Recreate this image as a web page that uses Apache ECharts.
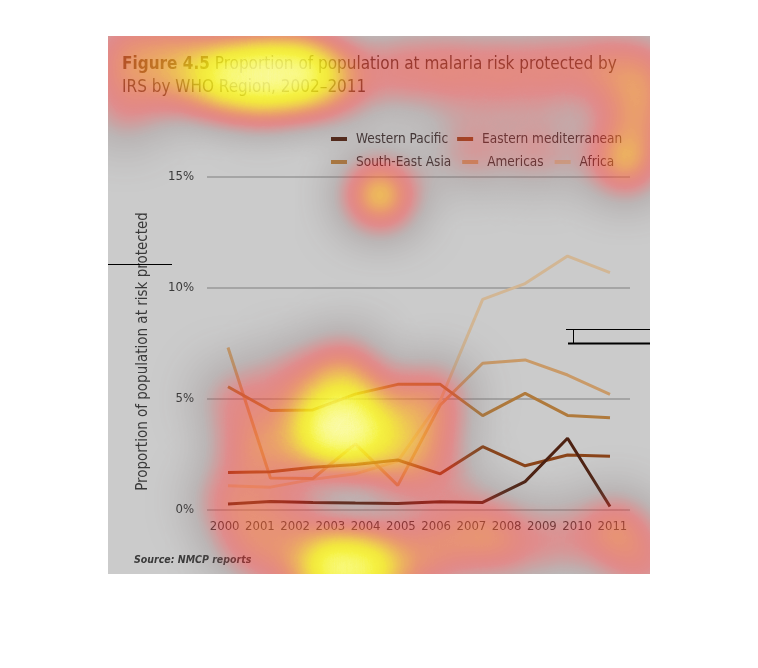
<!DOCTYPE html>
<html><head><meta charset="utf-8">
<script src="https://cdn.jsdelivr.net/npm/echarts@6/dist/echarts.min.js"></script>
<style>html,body{margin:0;padding:0;background:#fff}#c{width:758px;height:668px}</style>
</head><body><div id="c"></div>
<script>
// ---- data ----
const yearLabels = ['2000','2001','2002','2003','2004','2005','2006','2007','2008','2009','2010','2011'];
const dataYears = ['2002','2003','2004','2005','2006','2007','2008','2009','2010','2011'];
const westernPacific = [0.27, 0.38, 0.34, 0.31, 0.29, 0.37, 0.34, 1.28, 3.23, 0.16];
const easternMed     = [1.69, 1.72, 1.93, 2.05, 2.25, 1.63, 2.85, 1.99, 2.48, 2.42];
const southEastAsia  = [5.55, 4.48, 4.51, 5.22, 5.66, 5.66, 4.25, 5.25, 4.26, 4.16];
const americas       = [7.32, 1.44, 1.42, 2.98, 1.11, 4.73, 6.61, 6.76, 6.08, 5.21];
const africa         = [1.09, 1.03, 1.38, 1.63, 2.20, 4.92, 9.49, 10.20, 11.44, 10.69];
const yTicks = [0, 5, 10, 15];
const seriesNames = ['Western Pacific','Eastern mediterranean','South-East Asia','Americas','Africa'];
// attention heat spots: [x offset, y offset from panel top-left, weight]
const heatSpots = [
  // title band
  [117,39,1.0],[154,36,1.0],[192,36,1.0],[154,56,0.5],[82,44,0.5],[232,44,0.5],[212,40,0.5],
  [17,9,0.45],[17,34,0.4],[67,4,0.35],[67,34,0.35],
  [292,34,0.55],[342,34,0.55],[392,36,0.55],[442,34,0.55],[492,30,0.55],[537,34,0.55],[17,74,0.45],
  // legend
  [362,114,0.5],[432,114,0.5],[517,124,0.9],[532,74,0.6],
  // spot below legend
  [272,159,1.0],
  // main plot spot
  [222,394,1.0],[252,396,0.85],[237,384,0.55],[282,409,0.4],[192,404,0.5],[237,344,0.6],[237,326,0.3],
  [312,364,0.45],[332,434,0.4],[182,344,0.45],[312,394,0.35],[292,434,0.4],[332,359,0.35],
  [147,414,0.6],[127,364,0.5],[122,464,0.55],[142,509,0.55],[182,474,0.45],
  // bottom strip
  [222,529,1.0],[262,529,0.9],[242,544,0.6],[302,529,0.45],[182,532,0.4],
  [332,509,0.5],[372,490,0.45],[392,509,0.5],[447,504,0.45],[507,494,0.7],[537,529,0.5]
];

const FONT = "'DejaVu Sans Condensed','DejaVu Sans',sans-serif";
const colors = ['#4e2212','#8a4419','#b07a3c','#c99a68','#d2b694'];
const seriesData = [westernPacific, easternMed, southEastAsia, americas, africa];

echarts.registerMap('panel', {
  type: 'FeatureCollection',
  features: [{type:'Feature', properties:{name:'panel'},
    geometry:{type:'Polygon', coordinates:[[[0,0],[542,0],[542,538],[0,538],[0,0]]]}}]
});

const chart = echarts.init(document.getElementById('c'), null, {renderer:'canvas'});
const swatch = 'path://M0 0h16v4h-16z M19.9 0h0.1v0.1h-0.1z';

const lineSeries = seriesNames.map((n, i) => ({
  name: n, type: 'line', xAxisIndex: 1, yAxisIndex: 1,
  data: seriesData[i], symbol: 'none', z: 3 + (4 - i),
  lineStyle: {color: colors[i], width: 3}, itemStyle: {color: colors[i]},
  emphasis: {disabled: true}
}));

// intensity 0..1 in steps of 0.05
const heatColors = [
  '#605050','#6a5858','#706060','#786464','#806868','#a05a5a','#c84848','#e83c3c',
  '#ff3030','#ff3c30','#ff5030','#ff6a2c','#ff8c26','#ffb020','#ffd418','#fff010',
  '#fffa20','#ffff60','#ffff9c','#ffffcc','#fffff0'
];

const option = {
  animation: false,
  backgroundColor: '#ffffff',
  title: [{
    left: 117, top: 48,
    text: '{b|Figure 4.5} Proportion of population at malaria risk protected by\nIRS by WHO Region, 2002–2011',
    textStyle: {fontFamily: FONT, fontSize: 17, fontWeight: 'normal', color: '#4a3a30', lineHeight: 23,
      rich: {b: {fontFamily: FONT, fontSize: 17, fontWeight: 'bold', color: '#5a3a22', lineHeight: 23}}},
    z: 6
  }, {
    left: 129, top: 550,
    text: '{b|Source:} NMCP reports',
    textStyle: {fontFamily: FONT, fontSize: 10.5, fontStyle: 'italic', color: '#3a3a3a',
      rich: {b: {fontFamily: FONT, fontSize: 10.5, fontStyle: 'italic', fontWeight: 'bold', color: '#3a3a3a'}}}
  }],
  legend: [{
    left: 326, top: 127, data: seriesNames.slice(0, 2), icon: swatch,
    itemWidth: 20, itemHeight: 4, itemGap: 9,
    textStyle: {fontFamily: FONT, fontSize: 13.5, color: '#3c3030'}, selectedMode: false
  }, {
    left: 326, top: 150, data: seriesNames.slice(2), icon: swatch,
    itemWidth: 20, itemHeight: 4, itemGap: 11,
    textStyle: {fontFamily: FONT, fontSize: 13.5, color: '#3c3030'}, selectedMode: false
  }],
  geo: {
    map: 'panel', left: 108, top: 36, width: 542, height: 538, aspectScale: 1,
    roam: false, silent: true, z: -1,
    itemStyle: {areaColor: '#cbcbcb', borderWidth: 0},
    emphasis: {disabled: true}, label: {show: false}
  },
  visualMap: {
    show: false, type: 'continuous', min: 0, max: 1, seriesIndex: 5,
    inRange: {color: heatColors}
  },
  grid: [
    {left: 207, right: 128, top: 177, bottom: 158},
    {left: 228, right: 148, top: 177, bottom: 158}
  ],
  xAxis: [{
    type: 'category', gridIndex: 0, data: yearLabels, boundaryGap: true,
    axisLine: {show: false}, axisTick: {show: false},
    axisLabel: {fontFamily: FONT, fontSize: 13, color: '#3a3a3a', margin: 10, interval: 0}
  }, {
    type: 'category', gridIndex: 1, data: dataYears, boundaryGap: false, show: false
  }],
  yAxis: [{
    type: 'value', gridIndex: 0, min: yTicks[0], max: yTicks[yTicks.length-1], interval: yTicks[1]-yTicks[0],
    axisLine: {show: false}, axisTick: {show: false},
    axisLabel: {fontFamily: FONT, fontSize: 13, color: '#3a3a3a', margin: 13, formatter: '{value}%'},
    splitLine: {lineStyle: {color: '#999999', width: 1.5}},
    name: 'Proportion of population at risk protected', nameLocation: 'middle', nameGap: 56,
    nameTextStyle: {fontFamily: FONT, fontSize: 15, color: '#3a3a3a', padding: [0, 16, 0, 0]}
  }, {
    type: 'value', gridIndex: 1, min: yTicks[0], max: yTicks[yTicks.length-1], show: false
  }],
  series: lineSeries.concat([{
    type: 'heatmap', coordinateSystem: 'geo', z: 100,
    data: heatSpots.map(p => [p[0], 538 - p[1], p[2]]),
    pointSize: 35, blurSize: 50, minOpacity: 0, maxOpacity: 1, silent: true
  }]),
  graphic: [
    {type: 'line', z: 200, shape: {x1: 108, y1: 264.5, x2: 172, y2: 264.5}, style: {stroke: '#000', lineWidth: 1}},
    {type: 'line', z: 200, shape: {x1: 566, y1: 329.5, x2: 650, y2: 329.5}, style: {stroke: '#000', lineWidth: 1}},
    {type: 'line', z: 200, shape: {x1: 568, y1: 343.5, x2: 650, y2: 343.5}, style: {stroke: '#000', lineWidth: 2}},
    {type: 'line', z: 200, shape: {x1: 573.5, y1: 330, x2: 573.5, y2: 343}, style: {stroke: '#000', lineWidth: 1}}
  ]
};
chart.setOption(option);
</script></body></html>
